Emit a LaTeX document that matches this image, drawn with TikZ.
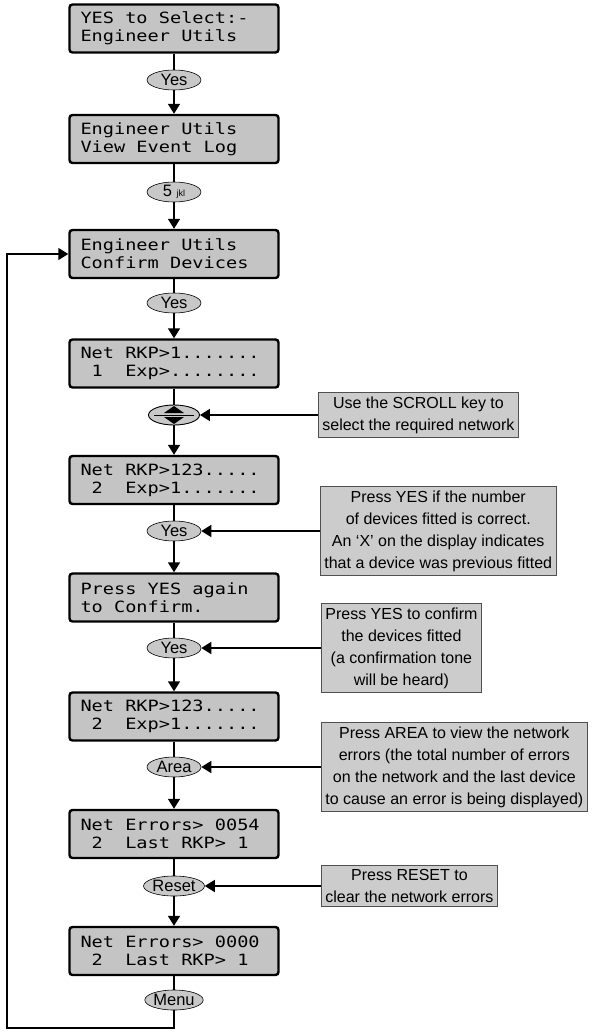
\documentclass[tikz,border=0pt]{standalone}
\usepackage{fontspec}
\setmainfont{Liberation Sans}
\newfontfamily\lcdfont[FakeStretch=1.2]{DejaVu Sans Mono}
\newcommand\lcdgap{\phantom{0}}
\usetikzlibrary{shapes.geometric,arrows.meta}
\definecolor{lcdgray}{HTML}{C4C4C4}
\definecolor{keygray}{HTML}{C8C8C8}
\definecolor{notegray}{HTML}{CCCCCC}
\definecolor{noteedge}{HTML}{505050}
\tikzset{
  lcd/.style={draw, line width=2.4pt, rounded corners=3pt, fill=lcdgray,
    minimum width=209pt, minimum height=48pt, inner xsep=11pt,
    text width=187pt, align=left,
    font={\lcdfont\fontsize{15.5}{18}\selectfont}},
  keycap/.style={ellipse, draw, line width=0.6pt, fill=keygray,
    minimum width=54pt, minimum height=20pt, inner sep=0pt,
    font={\fontsize{16.5}{17}\selectfont}},
  note/.style={draw=noteedge, line width=0.8pt, fill=notegray, anchor=west,
    align=center, inner xsep=4pt, inner ysep=4pt,
    font={\fontsize{16}{22}\selectfont}},
  link/.style={line width=1.6pt},
  flow/.style={link, -{Triangle[length=10pt,width=12pt]}},
}
\begin{document}
\begin{tikzpicture}[x=1pt,y=-1pt]
  \useasboundingbox (0,0) rectangle (592,1032);
  % displays
  \node[lcd] (d1) at (174,28.5) {YES\lcdgap to\lcdgap Select:-\\Engineer\lcdgap Utils};
  \node[lcd] (d2) at (174,139) {Engineer\lcdgap Utils\\View\lcdgap Event\lcdgap Log};
  \node[lcd] (d3) at (174,254) {Engineer\lcdgap Utils\\Confirm\lcdgap Devices};
  \node[lcd] (d4) at (174,363.5) {Net\lcdgap RKP>1.......\\\lcdgap 1\lcdgap\lcdgap Exp>........};
  \node[lcd] (d5) at (174,480) {Net\lcdgap RKP>123.....\\\lcdgap 2\lcdgap\lcdgap Exp>1.......};
  \node[lcd] (d6) at (174,597.5) {Press\lcdgap YES\lcdgap again\\to\lcdgap Confirm.};
  \node[lcd] (d7) at (174,716.5) {Net\lcdgap RKP>123.....\\\lcdgap 2\lcdgap\lcdgap Exp>1.......};
  \node[lcd] (d8) at (174,834) {Net\lcdgap Errors>\lcdgap 0054\\\lcdgap 2\lcdgap\lcdgap Last\lcdgap RKP>\lcdgap 1};
  \node[lcd] (d9) at (174,951) {Net\lcdgap Errors>\lcdgap 0000\\\lcdgap 2\lcdgap\lcdgap Last\lcdgap RKP>\lcdgap 1};
  % keys
  \node[keycap] (k1) at (174,80) {Yes};
  \node[keycap] (k2) at (174,192) {5 {\fontsize{9}{9}\selectfont jkl}};
  \node[keycap] (k3) at (174,303) {Yes};
  \node[keycap,minimum width=51pt,minimum height=20pt,line width=0.9pt] (k4) at (174,415) {};
  \fill (k4.center) ++(-10,-2) -- ++(20,0) -- ++(-10,-7) -- cycle;
  \fill (k4.center) ++(-10,2) -- ++(20,0) -- ++(-10,7) -- cycle;
  \draw[line width=0.8pt] (k4.center) ++(-20,0) -- ++(40,0);
  \node[keycap] (k5) at (174,531) {Yes};
  \node[keycap] (k6) at (174,648) {Yes};
  \node[keycap] (k7) at (174,767) {Area};
  \node[keycap] (k8) at (174,886) {Reset};
  \node[keycap] (k9) at (174,1000) {Menu};
  % notes
  \node[note] (n4) at (318,415) {Use the SCROLL key to\\select the required network};
  \node[note] (n5) at (320,531) {Press YES if the number\\of devices fitted is correct.\\An `X' on the display indicates\\that a device was previous fitted};
  \node[note] (n6) at (321,648) {Press YES to confirm\\the devices fitted\\(a confirmation tone\\will be heard)};
  \node[note] (n7) at (321,767) {Press AREA to view the network\\errors (the total number of errors\\on the network and the last device\\to cause an error is being displayed)};
  \node[note] (n8) at (321,886) {Press RESET to\\clear the network errors};
  % connectors
  \foreach \i [evaluate=\i as \j using int(\i+1)] in {1,...,8} {
    \draw[link] (d\i) -- (k\i);
    \draw[flow] (k\i) -- (d\j);
  }
  \draw[link] (d9) -- (k9);
  \foreach \i in {4,...,8}
    \draw[flow] (n\i.west) -- (k\i.east);
  % loop back
  \coordinate (back) at (7,1028);
  \draw[line width=1.4pt, -{Triangle[length=10pt,width=12pt]}]
    (k9.south) |- (back) |- (d3.west);
\end{tikzpicture}
\end{document}
